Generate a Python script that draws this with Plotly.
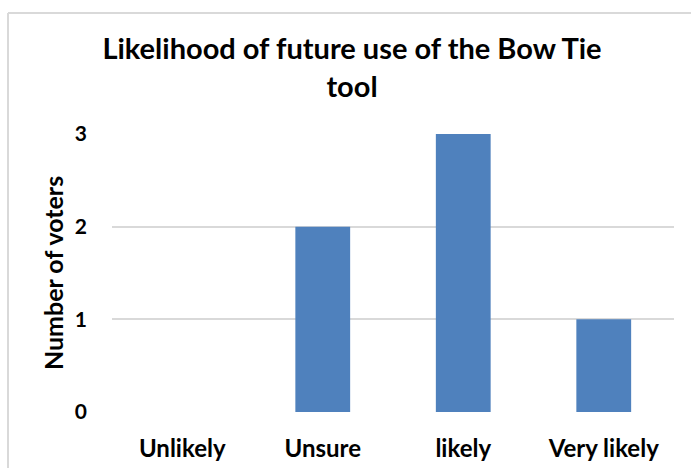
import plotly.graph_objects as go

categories = ["Unlikely", "Unsure", "likely", "Very likely"]
votes = [0, 2, 3, 1]
y_ticks = [0, 1, 2, 3]

W, H = 691, 468
L, R, T, B = 112, 17, 134, 56
pw, ph = W - L - R, H - T - B

def px_x(x):
    return (x - L) / pw

def px_y(y):
    return (H - B - y) / ph

FONT = "Lato"
fig = go.Figure(go.Bar(x=categories, y=votes, marker_color="#4F81BD",
                       marker_line_width=0, width=0.39))

grey = "#D9D9D9"
fig.update_layout(
    width=W, height=H,
    margin=dict(l=L, r=R, t=T, b=B, autoexpand=False),
    paper_bgcolor="white", plot_bgcolor="white",
    font=dict(family=FONT, color="#000000"),
    showlegend=False,
    title=dict(text="<b>Likelihood of future use of the Bow Tie<br>tool</b>",
               x=352 / W, xanchor="center", xref="container",
               y=1 - 59 / H, yanchor="middle", yref="container",
               font=dict(size=29, family=FONT, color="#000000")),
    xaxis=dict(showgrid=False, zeroline=False, showline=False, ticks="",
               automargin=False,
               tickfont=dict(size=24, family=FONT, color="#000000"),
               ticklabelstandoff=20),
    yaxis=dict(range=[0, 3], tickvals=y_ticks, ticktext=[f"<b>{v}</b>" for v in y_ticks],
               automargin=False,
               showgrid=True, gridcolor=grey, gridwidth=1.5, zeroline=False,
               showline=False, ticks="", ticklabelstandoff=24,
               tickfont=dict(size=21, family=FONT, color="#000000"),
               title=dict(text="<b>Number of voters</b>", standoff=4,
                          font=dict(size=25, family=FONT, color="#000000"))),
    shapes=[
        dict(type="line", xref="paper", yref="paper", x0=px_x(8), x1=px_x(8),
             y0=px_y(H + 5), y1=px_y(13), line=dict(color=grey, width=2)),
        dict(type="line", xref="paper", yref="paper", x0=px_x(8), x1=px_x(W + 5),
             y0=px_y(13), y1=px_y(13), line=dict(color=grey, width=2)),
    ],
)
fig.update_xaxes(ticktext=[f"<b>{c}</b>" for c in categories], tickvals=categories)

fig.write_html("out.html")
